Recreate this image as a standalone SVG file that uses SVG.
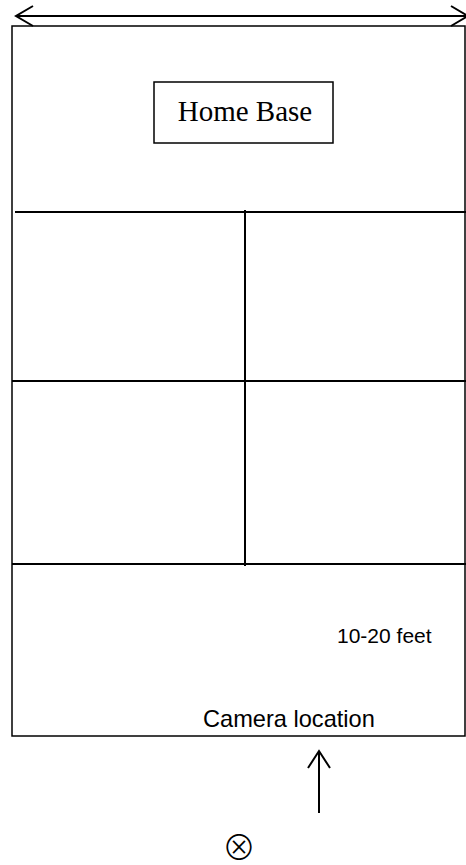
<svg xmlns="http://www.w3.org/2000/svg" width="466" height="865" viewBox="0 0 466 865">
<style>
.ln{stroke:#000;stroke-width:2;fill:none}
.bx{stroke:#000;stroke-width:1.5;fill:#fff}
.serif{font-family:"Liberation Serif","Times New Roman",serif;fill:#000}
.sans{font-family:"Liberation Sans",Arial,sans-serif;fill:#000}
</style>
<rect width="466" height="865" fill="#fff"/>
<g id="field">
<rect class="bx" x="12" y="26" width="453" height="710"/>
</g>
<g id="connectors">
<line class="ln" x1="16" y1="16" x2="468" y2="16"/>
<polyline class="ln" points="33,6 16,16 33,26"/>
<polyline class="ln" points="451,6 468,16 451,26"/>
<line class="ln" x1="15" y1="212" x2="466" y2="212"/>
<line class="ln" x1="12" y1="381" x2="466" y2="381"/>
<line class="ln" x1="12" y1="564" x2="466" y2="564"/>
<line class="ln" x1="245" y1="210" x2="245" y2="566"/>
<line class="ln" x1="319" y1="751" x2="319" y2="813"/>
<polyline class="ln" points="308,768 319,751 330,768"/>
</g>
<g id="home-base">
<rect class="bx" x="154" y="82" width="179" height="61"/>
<text class="serif" x="245" y="121" font-size="29" text-anchor="middle">Home Base</text>
</g>
<g id="distance-label">
<text class="sans" x="337" y="643" font-size="21">10-20 feet</text>
</g>
<g id="camera-label">
<text class="sans" x="203" y="727" font-size="23.6">Camera location</text>
</g>
<g id="camera">
<text x="239" y="860" font-size="34" text-anchor="middle" style="font-family:'Noto Sans CJK JP','DejaVu Sans',sans-serif;font-weight:300">⊗</text>
</g>
</svg>
